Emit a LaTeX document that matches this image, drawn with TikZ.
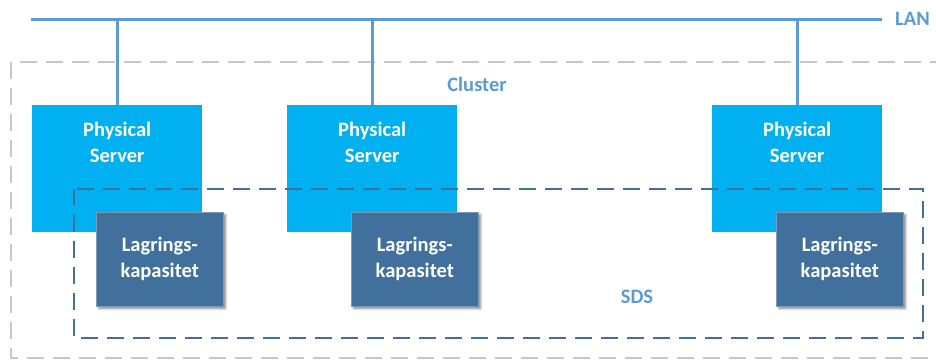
\documentclass[tikz,border=0pt]{standalone}
\usepackage{fontspec}
\setmainfont{Carlito}
\usetikzlibrary{shadows.blur}
\definecolor{srvcyan}{HTML}{00B0F0}
\definecolor{stblue}{HTML}{41709C}
\definecolor{lanblue}{HTML}{5B9BD5}
\definecolor{clgray}{HTML}{C8C8C8}
\tikzset{
  txt/.style={font=\fontsize{20.5}{26}\selectfont\bfseries},
  server/.style={fill=srvcyan, draw=none, minimum width=170pt, minimum height=127pt, anchor=north west, inner sep=0pt},
  srvtext/.style={txt, text=white, align=center, anchor=north, inner sep=0pt},
  storage/.style={txt, fill=stblue, draw=stblue!70!white, line width=0.6pt, minimum width=127pt, minimum height=94pt, anchor=north west, inner sep=0pt, text=white, align=center,
    blur shadow={shadow xshift=2.5pt, shadow yshift=-2.5pt, shadow blur steps=6, shadow opacity=45}},
  lanline/.style={draw=lanblue, line width=3pt},
  drop/.style={draw=lanblue, line width=2.7pt},
  clusterbox/.style={draw=clgray, line width=2pt, dash pattern=on 17pt off 9pt},
  sdsbox/.style={draw=stblue, line width=2pt, dash pattern=on 17pt off 9pt},
  grplabel/.style={txt, text=lanblue, inner sep=0pt},
}
\begin{document}
\begin{tikzpicture}[x=1pt,y=-1pt]
\useasboundingbox (0,0) rectangle (936,359);
\clip (0,0) rectangle (936,359);
% cluster box
\draw[clusterbox] (11,62) rectangle (950,358);
\node[grplabel] (cluster) at (477,84) {Cluster};
% LAN
\coordinate (lanL) at (31,19);
\coordinate (lanR) at (882,19);
\draw[lanline] (lanL) -- (lanR);
\node[grplabel, anchor=west] (lan) at (895,19) {LAN};
% servers
\node[server] (s1) at (32,105) {};
\node[server] (s2) at (287,105) {};
\node[server] (s3) at (712,105) {};
\node[srvtext] (s1t) at ([yshift=-17pt]s1.north) {Physical\\Server};
\node[srvtext] (s2t) at ([yshift=-17pt]s2.north) {Physical\\Server};
\node[srvtext] (s3t) at ([yshift=-17pt]s3.north) {Physical\\Server};
\draw[drop] (s1.north) -- (s1.north |- lanL);
\draw[drop] (s2.north) -- (s2.north |- lanL);
\draw[drop] (s3.north) -- (s3.north |- lanL);
% SDS box
\draw[sdsbox] (74,189) rectangle (923,338);
\node[grplabel] (sds) at (637,297) {SDS};
% storage
\node[storage] (st1) at (96,212) {Lagrings-\\kapasitet};
\node[storage] (st2) at (351,212) {Lagrings-\\kapasitet};
\node[storage] (st3) at (776,212) {Lagrings-\\kapasitet};
\end{tikzpicture}
\end{document}
